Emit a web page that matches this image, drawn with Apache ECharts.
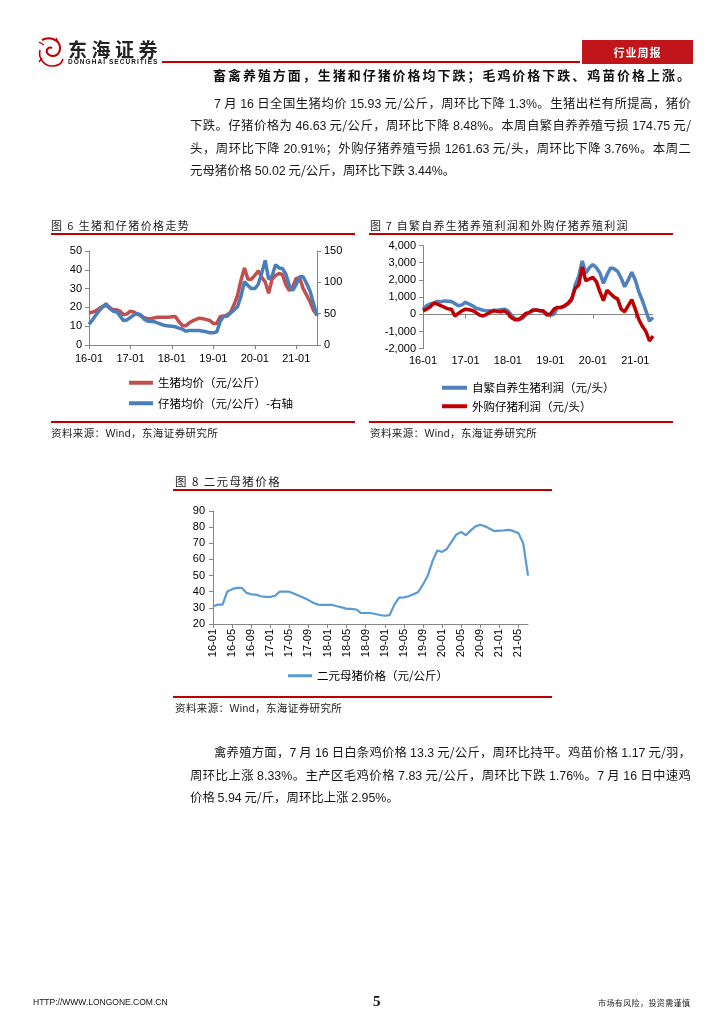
<!DOCTYPE html>
<html><head><meta charset="utf-8">
<script src="https://cdn.jsdelivr.net/npm/echarts@6/dist/echarts.min.js"></script>
<style>
body{margin:0;background:#fff;}
#page{position:relative;width:724px;height:1024px;overflow:hidden;background:#fff;font-family:"Noto Sans CJK SC","Liberation Sans",sans-serif;color:#111;}
#chart{position:absolute;left:0;top:0;width:724px;height:1024px;}
.t{position:absolute;white-space:nowrap;}
.jl{position:absolute;white-space:nowrap;text-align:justify;text-align-last:justify;font-size:12.4px;line-height:16px;color:#1a1a1a;}
.num{font-family:"Liberation Sans",Arial,sans-serif;}
.rule{position:absolute;background:#c00000;}
.ctitle{position:absolute;font-size:11px;letter-spacing:1.4px;color:#222;white-space:nowrap;line-height:14px;}
.src{position:absolute;font-size:10.5px;letter-spacing:0.4px;color:#222;white-space:nowrap;line-height:13px;}
</style></head>
<body>
<div id="page">
<div id="chart"></div>

<!-- header -->
<svg style="position:absolute;left:36px;top:36px" width="30" height="32" viewBox="0 0 30 32">
 <path d="M6 4 C14 0 24 4 24 12 C24 20 16 22 12 18 C9 15 12 10 16 12" fill="none" stroke="#c00000" stroke-width="2"/>
 <path d="M4 14 C2 22 8 30 16 30 C22 30 26 27 27 23" fill="none" stroke="#c00000" stroke-width="1.6"/>
 <path d="M3 6 L8 9 M20 2 L22 6 M6 22 L3 26" stroke="#c00000" stroke-width="1.4"/>
</svg>
<div class="t" style="left:68px;top:38px;font-size:19px;font-weight:bold;letter-spacing:4.5px;color:#222;line-height:22px;">东海证券</div>
<div class="t" style="left:68px;top:58px;font-size:6.5px;font-weight:bold;letter-spacing:1.05px;color:#222;line-height:8px;font-family:'Liberation Sans',Arial,sans-serif;">DONGHAI SECURITIES</div>
<div class="rule" style="left:162px;top:61px;width:418px;height:1.5px;"></div>
<div style="position:absolute;left:582px;top:40px;width:111px;height:24px;background:#c0151b;color:#fff;font-size:11px;font-weight:bold;text-align:center;line-height:24px;letter-spacing:1px;">行业周报</div>

<div class="jl" style="left:213px;top:67px;width:477px;font-weight:bold;font-size:13px;color:#111;">畜禽养殖方面，生猪和仔猪价格均下跌；毛鸡价格下跌、鸡苗价格上涨。</div>

<div class="jl" style="left:214px;top:95px;width:477px;"><span class="num">7</span> 月 <span class="num">16</span> 日全国生猪均价 <span class="num">15.93</span> 元/公斤，周环比下降 <span class="num">1.3%</span>。生猪出栏有所提高，猪价</div>
<div class="jl" style="left:190px;top:117px;width:501px;">下跌。仔猪价格为 <span class="num">46.63</span> 元/公斤，周环比下降 <span class="num">8.48%</span>。本周自繁自养养殖亏损 <span class="num">174.75</span> 元/</div>
<div class="jl" style="left:190px;top:140px;width:501px;">头，周环比下降 <span class="num">20.91%</span>；外购仔猪养殖亏损 <span class="num">1261.63</span> 元/头，周环比下降 <span class="num">3.76%</span>。本周二</div>
<div class="t" style="left:190px;top:162px;font-size:12.4px;line-height:16px;color:#1a1a1a;">元母猪价格 <span class="num">50.02</span> 元/公斤，周环比下跌 <span class="num">3.44%</span>。</div>

<!-- figure 6 / 7 frames -->
<div class="ctitle" style="left:51px;top:218px;">图 6 生猪和仔猪价格走势</div>
<div class="rule" style="left:51px;top:233px;width:304px;height:2px;"></div>
<div class="rule" style="left:51px;top:421px;width:304px;height:2px;"></div>
<div class="src" style="left:51px;top:426px;">资料来源：<span class="num">Wind</span>，东海证券研究所</div>

<div class="ctitle" style="left:370px;top:218px;letter-spacing:1.2px;">图 7 自繁自养生猪养殖利润和外购仔猪养殖利润</div>
<div class="rule" style="left:369px;top:233px;width:304px;height:2px;"></div>
<div class="rule" style="left:369px;top:421px;width:304px;height:2px;"></div>
<div class="src" style="left:370px;top:426px;">资料来源：<span class="num">Wind</span>，东海证券研究所</div>

<!-- figure 8 -->
<div class="ctitle" style="left:175px;top:474px;font-size:11.5px;">图 8 二元母猪价格</div>
<div class="rule" style="left:173px;top:489px;width:379px;height:2px;"></div>
<div class="rule" style="left:173px;top:696px;width:379px;height:2px;"></div>
<div class="src" style="left:175px;top:701px;">资料来源：<span class="num">Wind</span>，东海证券研究所</div>

<div class="jl" style="left:214px;top:744px;width:477px;">禽养殖方面，<span class="num">7</span> 月 <span class="num">16</span> 日白条鸡价格 <span class="num">13.3</span> 元/公斤，周环比持平。鸡苗价格 <span class="num">1.17</span> 元/羽，</div>
<div class="jl" style="left:190px;top:767px;width:501px;">周环比上涨 <span class="num">8.33%</span>。主产区毛鸡价格 <span class="num">7.83</span> 元/公斤，周环比下跌 <span class="num">1.76%</span>。<span class="num">7</span> 月 <span class="num">16</span> 日中速鸡</div>
<div class="t" style="left:190px;top:789px;font-size:12.4px;line-height:16px;color:#1a1a1a;">价格 <span class="num">5.94</span> 元/斤，周环比上涨 <span class="num">2.95%</span>。</div>

<!-- footer -->
<div class="t" style="left:33px;top:997px;font-size:8.5px;font-family:'Liberation Sans',Arial,sans-serif;color:#111;">HTTP://WWW.LONGONE.COM.CN</div>
<div class="t" style="left:373px;top:993px;font-size:15px;font-weight:bold;font-family:'Liberation Serif','DejaVu Serif',serif;color:#111;">5</div>
<div class="t" style="left:598px;top:997px;font-size:8px;letter-spacing:0.4px;color:#222;">市场有风险，投资需谨慎</div>
</div>

<script>
// ---------- data ----------
const months = [];
for (let y = 16; y <= 21; y++) {
  for (let m = 1; m <= 12; m++) {
    if (y === 21 && m > 7) break;
    months.push(y + '-' + String(m).padStart(2, '0'));
  }
}
const months7 = months.slice(0, 66);

// Fig 6: 生猪均价 (元/公斤, left axis)
const hogPrice = [17,17.5,18.2,19.5,20.5,21,20,18.7,18.7,18,16,16.6,
  18,17.5,16.5,15.5,14.5,14,14,14.5,14.8,14.8,14.8,14.8,
  15,15.2,12.5,10.4,10.2,11.8,12.8,13.6,14.3,14,13.5,13,
  11.5,11.5,15.2,15.4,16,17.5,21.5,26.4,34.5,41,35,35,
  37,39.5,36,33.6,27.5,35,37,38,37.5,32,29,31,
  35.5,35.5,30,26.5,23,18.4,15.93];
// Fig 6: 仔猪均价 (元/公斤, right axis)
const pigletPrice = [33,40,48,55,61,66,58,54,53,46,39,40,
  44,48,50,48,41,38,37.5,37,35,33,31,30.5,
  30,29,27,25.5,22,23,23,23,23,22,21,19.5,
  19.5,21,38,46,46,51,56,61,78,101,95,90,
  90,97,115,135,105,110,128,123,122,113,95,87,
  97,109,109,98,86,66,46.63];

// Fig 7: 自繁自养生猪利润 (元/头)
const selfBredProfit = [300,500,600,650,750,720,780,760,740,620,500,550,
  700,600,500,350,300,230,200,200,240,240,270,300,
  200,-50,-250,-300,-250,-60,100,200,260,220,150,50,
  -50,0,380,400,450,600,
  800,1700,2200,3100,2400,2700,2900,2700,2400,1800,2300,2700,
  2650,2500,2100,1600,2000,2450,2000,1300,800,200,-400,-175];
// Fig 7: 外购仔猪利润 (元/头)
const purchasedProfit = [200,300,420,650,600,500,420,320,300,-100,50,200,
  300,260,220,100,-50,-100,0,120,200,170,150,200,
  50,-200,-320,-320,-150,50,100,250,250,200,200,-50,
  0,300,400,400,500,650,
  900,1500,1700,2750,1950,2050,2150,1900,1300,800,1400,1200,
  1000,900,300,150,500,850,300,-300,-700,-1000,-1550,-1260];

// Fig 8: 二元母猪价格 (元/公斤)
const sowPrice = [31,32,32,40.2,41.6,42.4,42.4,39.3,38.4,38.2,37.2,36.8,
  36.8,37.5,40,40,40,38.8,37.5,36.2,34.8,33.2,32,31.8,
  31.8,31.8,31,30.3,29.4,29.4,29,26.8,26.8,26.8,26.2,25.6,
  25.1,25.5,32,36.4,36.5,37.2,38.5,39.8,44.5,50,59,65.5,
  64.7,66.5,71,75.5,77,75,78,80.5,81.5,80.5,79,77.5,
  77.8,78,78.3,77.5,76.3,70,50.02];

const names = {
  hog: '生猪均价（元/公斤）',
  piglet: '仔猪均价（元/公斤）-右轴',
  selfBred: '自繁自养生猪利润（元/头）',
  purchased: '外购仔猪利润（元/头）',
  sow: '二元母猪价格（元/公斤）'
};

// ---------- chart ----------
const axisGray = '#868686';
const numFont = "'Liberation Sans', Arial, sans-serif";
const cjkFont = "'Noto Sans CJK SC', sans-serif";
const lbl = {color: '#000', fontSize: 11, fontFamily: numFont};
function line() { return {show: true, lineStyle: {color: axisGray, width: 1}}; }
function tick(interval) { return {show: true, inside: false, length: 4, interval: interval, lineStyle: {color: axisGray}}; }
const legendText = {color: '#000', fontSize: 11.5, fontFamily: cjkFont};

const chart = echarts.init(document.getElementById('chart'), null, {renderer: 'canvas'});
chart.setOption({
  animation: false,
  backgroundColor: 'transparent',
  grid: [
    {left: 89, top: 251, width: 228, height: 94},
    {left: 423, top: 245.5, width: 230, height: 103.2},
    {left: 213, top: 511, width: 315, height: 113}
  ],
  xAxis: [
    {gridIndex: 0, type: 'category', data: months, boundaryGap: false,
     axisLine: line(), axisTick: tick(11),
     axisLabel: Object.assign({interval: 11, margin: 8}, lbl), splitLine: {show: false}},
    {gridIndex: 1, type: 'category', data: months7, boundaryGap: false,
     axisLine: {show: true, onZero: true, lineStyle: {color: axisGray}}, axisTick: tick(11),
     axisLabel: {show: false}, splitLine: {show: false}},
    {gridIndex: 1, type: 'category', data: months7, boundaryGap: false, position: 'bottom',
     axisLine: {show: false, onZero: false}, axisTick: {show: false},
     axisLabel: Object.assign({interval: 11, margin: 7}, lbl), splitLine: {show: false}},
    {gridIndex: 2, type: 'category', data: months, boundaryGap: false,
     axisLine: line(), axisTick: tick(3),
     axisLabel: Object.assign({interval: 3, rotate: 90, margin: 5}, lbl), splitLine: {show: false}}
  ],
  yAxis: [
    {gridIndex: 0, type: 'value', min: 0, max: 50, interval: 10, position: 'left',
     axisLine: line(), axisTick: tick(), axisLabel: Object.assign({margin: 7}, lbl), splitLine: {show: false}},
    {gridIndex: 0, type: 'value', min: 0, max: 150, interval: 50, position: 'right',
     axisLine: line(), axisTick: tick(), axisLabel: Object.assign({margin: 7}, lbl), splitLine: {show: false}},
    {gridIndex: 1, type: 'value', min: -2000, max: 4000, interval: 1000,
     axisLine: line(), axisTick: tick(),
     axisLabel: Object.assign({margin: 7, formatter: v => v.toLocaleString('en-US')}, lbl), splitLine: {show: false}},
    {gridIndex: 2, type: 'value', min: 20, max: 90, interval: 10,
     axisLine: line(), axisTick: tick(), axisLabel: Object.assign({margin: 8}, lbl), splitLine: {show: false}}
  ],
  legend: [
    {data: [names.hog, names.piglet], orient: 'vertical', left: 129, top: 377, padding: 0,
     icon: 'rect', itemWidth: 24, itemHeight: 4, itemGap: 9, textStyle: legendText},
    {data: [names.selfBred, names.purchased], orient: 'vertical', left: 442, top: 382, padding: 0,
     icon: 'rect', itemWidth: 25, itemHeight: 4, itemGap: 7, textStyle: legendText},
    {data: [names.sow], orient: 'horizontal', left: 288, top: 670, padding: 0,
     icon: 'rect', itemWidth: 24, itemHeight: 3, textStyle: legendText}
  ],
  series: [
    {name: names.hog, type: 'line', xAxisIndex: 0, yAxisIndex: 0, data: hogPrice,
     showSymbol: false, symbol: 'none', lineStyle: {color: '#c0504d', width: 3.5}, itemStyle: {color: '#c0504d'}},
    {name: names.piglet, type: 'line', xAxisIndex: 0, yAxisIndex: 1, data: pigletPrice,
     showSymbol: false, symbol: 'none', lineStyle: {color: '#4a7ebb', width: 3.5}, itemStyle: {color: '#4a7ebb'}},
    {name: names.selfBred, type: 'line', xAxisIndex: 1, yAxisIndex: 2, data: selfBredProfit,
     showSymbol: false, symbol: 'none', lineStyle: {color: '#4f81bd', width: 3.5}, itemStyle: {color: '#4f81bd'}},
    {name: names.purchased, type: 'line', xAxisIndex: 1, yAxisIndex: 2, data: purchasedProfit,
     showSymbol: false, symbol: 'none', lineStyle: {color: '#c00000', width: 3.5}, itemStyle: {color: '#c00000'}},
    {name: names.sow, type: 'line', xAxisIndex: 3, yAxisIndex: 3, data: sowPrice,
     showSymbol: false, symbol: 'none', lineStyle: {color: '#5b9bd5', width: 2.2}, itemStyle: {color: '#5b9bd5'}}
  ]
});
</script>
</body></html>
